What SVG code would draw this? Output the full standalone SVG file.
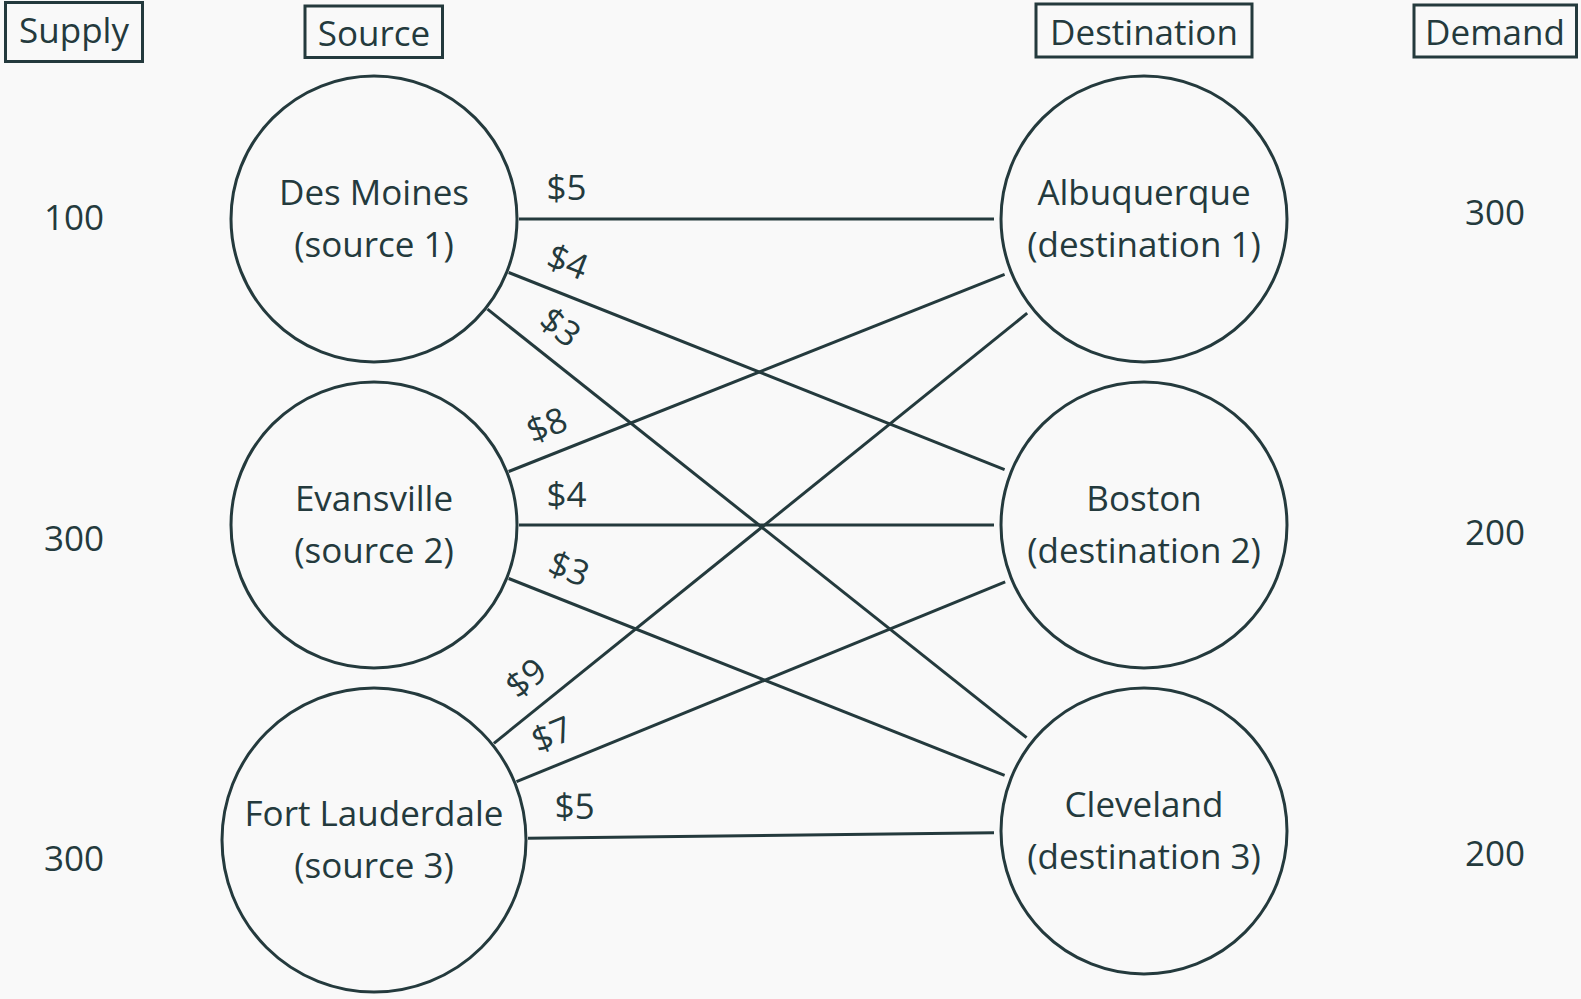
<svg xmlns="http://www.w3.org/2000/svg" width="1581" height="999" viewBox="0 0 1581 999">
<style>
  .bg { fill: #f9f9f9; }
  .box { fill: none; stroke: #243a3d; stroke-width: 3; }
  .node { fill: none; stroke: #243a3d; stroke-width: 3; }
  .edge { stroke: #243a3d; stroke-width: 3; fill: none; }
  text { font-family: "Open Sans", "Noto Sans", "DejaVu Sans", sans-serif; font-size: 35px; fill: #243a3d; text-anchor: middle; }
</style>
<rect class="bg" x="0" y="0" width="1581" height="999"/>

<g id="header-supply">
  <rect class="box" x="5.5" y="2.5" width="137" height="59"/>
  <text x="74" y="42.5">Supply</text>
</g>
<g id="header-source">
  <rect class="box" x="305" y="6" width="137.5" height="51.5"/>
  <text x="374" y="45.5">Source</text>
</g>
<g id="header-destination">
  <rect class="box" x="1036" y="4" width="216" height="53"/>
  <text x="1144" y="45">Destination</text>
</g>
<g id="header-demand">
  <rect class="box" x="1414" y="5" width="162.5" height="52"/>
  <text x="1495" y="44.5">Demand</text>
</g>

<g id="supply-values">
  <text x="74" y="230">100</text>
  <text x="74" y="550.5">300</text>
  <text x="74" y="870.5">300</text>
</g>
<g id="demand-values">
  <text x="1495" y="224.5">300</text>
  <text x="1495" y="545">200</text>
  <text x="1495" y="865.5">200</text>
</g>

<g id="connectors">
  <path class="edge" d="M519 219 L994 219"/>
  <path class="edge" d="M508.7 272.5 L1004.6 469.6"/>
  <path class="edge" d="M487.5 309.2 L1026.6 737.7"/>
  <path class="edge" d="M508.7 471.5 L1004.6 274.4"/>
  <path class="edge" d="M519 525 L994 525"/>
  <path class="edge" d="M508.7 578.5 L1004.6 775.4"/>
  <path class="edge" d="M493.9 743.3 L1027.2 313.2"/>
  <path class="edge" d="M516.5 781.7 L1005.2 581.8"/>
  <path class="edge" d="M528 838.2 L994 832.8"/>
  <text transform="translate(566.5,187.5)" y="12.5">$5</text>
  <text transform="translate(567.8,261.7) rotate(21.67)" y="12.5">$4</text>
  <text transform="translate(560.5,327) rotate(38.48)" y="12.5">$3</text>
  <text transform="translate(546.7,425) rotate(-21.67)" y="12.5">$8</text>
  <text transform="translate(566.5,494.5)" y="12.5">$4</text>
  <text transform="translate(569,568.5) rotate(21.67)" y="12.5">$3</text>
  <text transform="translate(525.8,678) rotate(-38.88)" y="12.5">$9</text>
  <text transform="translate(551.7,734.3) rotate(-22.25)" y="12.5">$7</text>
  <text transform="translate(574.7,806.3) rotate(-0.67)" y="12.5">$5</text>
</g>

<g id="source-1">
  <circle class="node" cx="374" cy="219" r="143"/>
  <text x="374" y="205">Des Moines</text>
  <text x="374" y="257">(source 1)</text>
</g>
<g id="source-2">
  <circle class="node" cx="374" cy="525" r="143"/>
  <text x="374" y="511">Evansville</text>
  <text x="374" y="563">(source 2)</text>
</g>
<g id="source-3">
  <circle class="node" cx="374" cy="840" r="152"/>
  <text x="374" y="826">Fort Lauderdale</text>
  <text x="374" y="878">(source 3)</text>
</g>
<g id="destination-1">
  <circle class="node" cx="1144" cy="219" r="143"/>
  <text x="1144" y="205">Albuquerque</text>
  <text x="1144" y="257">(destination 1)</text>
</g>
<g id="destination-2">
  <circle class="node" cx="1144" cy="525" r="143"/>
  <text x="1144" y="511">Boston</text>
  <text x="1144" y="563">(destination 2)</text>
</g>
<g id="destination-3">
  <circle class="node" cx="1144" cy="831" r="143"/>
  <text x="1144" y="817">Cleveland</text>
  <text x="1144" y="869">(destination 3)</text>
</g>
</svg>
